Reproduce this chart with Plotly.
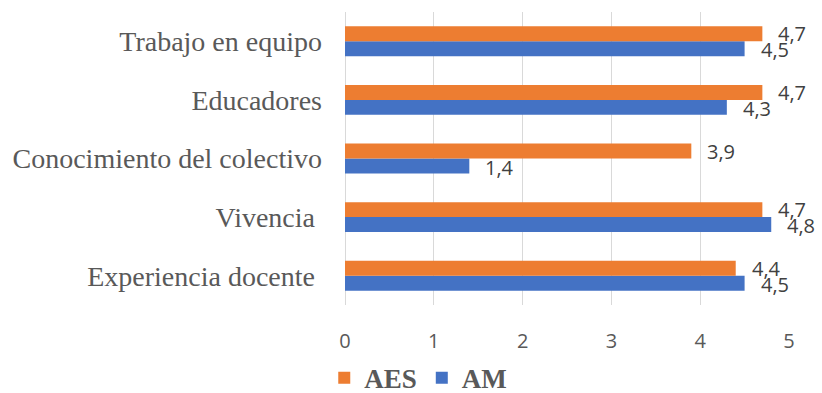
import plotly.graph_objects as go

# Categories listed bottom to top
categories = [
    "Experiencia docente",
    "Vivencia",
    "Conocimiento del colectivo",
    "Educadores",
    "Trabajo en equipo",
]
category_labels = [
    "Experiencia docente\u00a0",
    "Vivencia\u00a0",
    "Conocimiento del colectivo",
    "Educadores",
    "Trabajo en equipo",
]
aes_values = [4.4, 4.7, 3.9, 4.7, 4.7]
am_values = [4.5, 4.8, 1.4, 4.3, 4.5]

ORANGE = "#ED7D31"
BLUE = "#4472C4"
GRID = "#D9D9D9"
TEXT = "#595959"
LABEL = "#404040"


def fmt(v):
    return f"{v:.1f}".replace(".", ",")


fig = go.Figure()
# AM drawn first so it sits below AES within each group
fig.add_trace(go.Bar(name="AM", y=categories, x=am_values, orientation="h",
                     marker=dict(color=BLUE, line=dict(width=0))))
fig.add_trace(go.Bar(name="AES", y=categories, x=aes_values, orientation="h",
                     marker=dict(color=ORANGE, line=dict(width=0))))

# Value labels just right of each bar end
for cat, a, m in zip(categories, aes_values, am_values):
    for v, dy in ((a, 7.5), (m, -8.5)):
        fig.add_annotation(x=v, y=cat, text=fmt(v), showarrow=False,
                           xanchor="left", yanchor="middle", xshift=14, yshift=dy,
                           font=dict(family="Open Sans", size=20, color=LABEL))

fig.update_layout(
    width=822, height=393,
    margin=dict(l=345, r=33, t=12, b=88, autoexpand=False),
    paper_bgcolor="white", plot_bgcolor="white",
    barmode="group", bargap=0.49, bargroupgap=0,
    showlegend=True,
    legend=dict(orientation="h", traceorder="reversed",
                x=0.165, xanchor="center", y=-0.25, yanchor="middle",
                font=dict(family="Liberation Serif", size=27, color=TEXT, weight="bold"),
                itemwidth=30, tracegroupgap=0),
    xaxis=dict(range=[0, 5], dtick=1, showgrid=True, gridcolor=GRID, gridwidth=1,
               zeroline=True, zerolinecolor=GRID, zerolinewidth=1, showline=False,
               ticks="", ticklabelstandoff=22,
               tickfont=dict(family="Open Sans", size=20, color=TEXT)),
    yaxis=dict(categoryorder="array", categoryarray=categories,
               tickmode="array", tickvals=categories, ticktext=category_labels,
               showgrid=False, showline=False, zeroline=False, ticks="",
               ticklabelstandoff=22,
               tickfont=dict(family="Liberation Serif", size=28, color=TEXT)),
)

fig.write_html("out.html")
